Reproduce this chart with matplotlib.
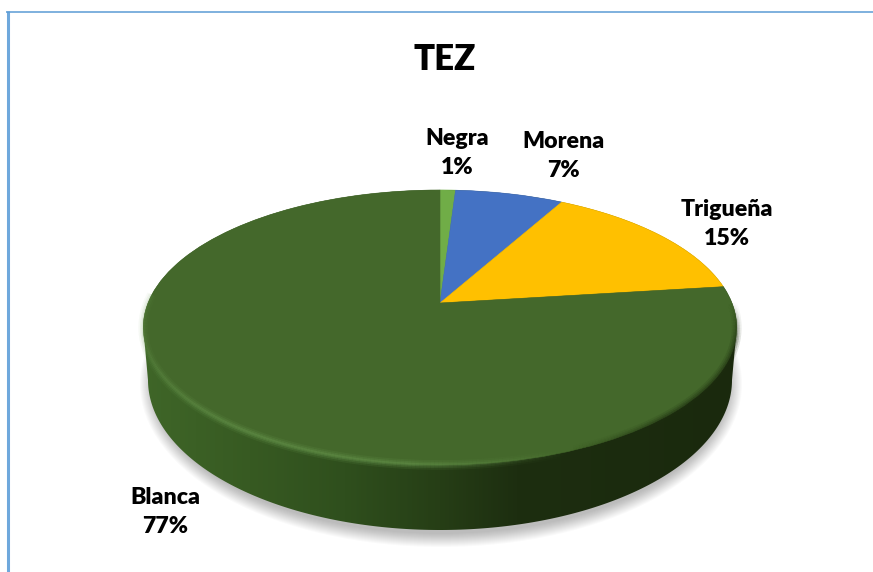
import numpy as np
import matplotlib
matplotlib.use('Agg')
import matplotlib.pyplot as plt
from matplotlib.colors import LinearSegmentedColormap, to_rgb
from matplotlib.collections import LineCollection
from matplotlib.patches import Ellipse, Polygon
from matplotlib.transforms import Transform

categorias = ['Negra', 'Morena', 'Trigueña', 'Blanca']
valores = [1, 7, 15, 77]
colores = ['#70AD47', '#4472C4', '#FFC000', '#44682B']
titulo = 'TEZ'

# posicion (px) del centro de cada etiqueta
pos_etiquetas = [(457, 153), (563, 156), (727, 224), (165, 512)]

plt.rcParams['font.family'] = ['Lato', 'DejaVu Sans']

# parametros de la perspectiva, medidos en pixeles
CX, CY = 440, 303
C, A, K = 292, -79.2, 0.178


def proyectar(u, v):
    """Lleva el circulo unidad al disco visto en perspectiva."""
    w = 1 + K * v
    return CX + C * u / w, (A * v + CY) / w


class Perspectiva(Transform):
    input_dims = output_dims = 2
    is_separable = False
    has_inverse = False

    def transform_non_affine(self, values):
        values = np.asarray(values)
        x, y = proyectar(values[:, 0], values[:, 1])
        return np.column_stack([x, y])


fig = plt.figure(figsize=(8.73, 5.72), dpi=100)
ax = fig.add_axes([0, 0, 1, 1])

wedges, _ = ax.pie(valores, colors=colores, startangle=90, counterclock=False,
                   radius=1, center=(0, 0),
                   wedgeprops={'linewidth': 0.4, 'zorder': 5})
for w, c in zip(wedges, colores):
    w.set_edgecolor(c)
    w.set_transform(Perspectiva() + ax.transData)

ax.set_aspect('auto')
ax.set_xlim(0, 873)
ax.set_ylim(572, 0)
ax.axis('off')

# sombra difusa
for i in range(14):
    ax.add_patch(Ellipse((441, 384), 2 * (288 + i), 2 * (150 + i * 1.0),
                         facecolor='black', alpha=0.018, linewidth=0, zorder=1))

# pared lateral con degradado horizontal
extremo = np.arcsin(K)
t = np.linspace(np.pi + extremo, -extremo, 240)
arriba_x, arriba_y = proyectar(np.cos(t), np.sin(t))
t2 = np.linspace(0, np.pi, 200)
abajo_x = 440 + 292 * np.cos(t2)
abajo_y = 380 + 150 * np.sin(t2)
borde = np.column_stack([np.r_[arriba_x, abajo_x], np.r_[arriba_y, abajo_y]])
clip = Polygon(borde, closed=True, transform=ax.transData, facecolor='none',
               edgecolor='none')
ax.add_patch(clip)
cmap = LinearSegmentedColormap.from_list('pared', [
    (0.00, '#3f6628'), (0.18, '#375a22'), (0.34, '#2f4f1d'), (0.50, '#263e16'),
    (0.63, '#1d2e10'), (1.00, '#1a290d')])
img = ax.imshow(np.linspace(0, 1, 600).reshape(1, -1), cmap=cmap, aspect='auto',
                extent=(142, 738, 572, 0), zorder=2)
img.set_clip_path(clip)
ax.set_xlim(0, 873)
ax.set_ylim(572, 0)

# brillo del bisel sobre el borde delantero del disco
th = np.linspace(np.pi * 0.98, np.pi * 2.0, 300)
bx, by = proyectar(np.cos(th), np.sin(th))
puntos = np.column_stack([bx, by]).reshape(-1, 1, 2)
segmentos = np.concatenate([puntos[:-1], puntos[1:]], axis=1)
medio = np.degrees((th[:-1] + th[1:]) / 2)
brillo = np.interp(medio, [176, 200, 235, 265, 292], [0.3, 0.5, 1, 1, 0])
oscuro = np.interp(medio, [292, 312, 345, 360], [0, 1, 1, 0])
claro = np.array(to_rgb('#6a9a50'))
negro = np.array(to_rgb('#1f3011'))
for ancho, alfa in [(7, 0.14), (4.5, 0.22), (2.2, 0.32)]:
    col = np.zeros((len(medio), 4))
    col[:, :3] = np.where(oscuro[:, None] > 0, negro, claro)
    col[:, 3] = alfa * np.maximum(brillo, oscuro)
    ax.add_collection(LineCollection(segmentos, colors=col, linewidths=ancho,
                                     zorder=6, capstyle='butt'))

# etiquetas
for cat, val, (x, y) in zip(categorias, valores, pos_etiquetas):
    ax.text(x, y, f'{cat}\n{val}%', ha='center', va='center', fontsize=16.7,
            fontweight=800, color='black', linespacing=1.52, zorder=7)

ax.text(445, 60, titulo, ha='center', va='center', fontsize=25,
        fontweight=800, color='black')

# marco del grafico, solo arriba e izquierda
ax.plot([7.5, 7.5], [11, 572], color='#6FA8DC', lw=2.2, solid_capstyle='butt', zorder=8)
ax.plot([6, 873], [11.5, 11.5], color='#5B9BD5', lw=1.1, solid_capstyle='butt', zorder=8)

fig.savefig('out.png', dpi=100, facecolor='white')
